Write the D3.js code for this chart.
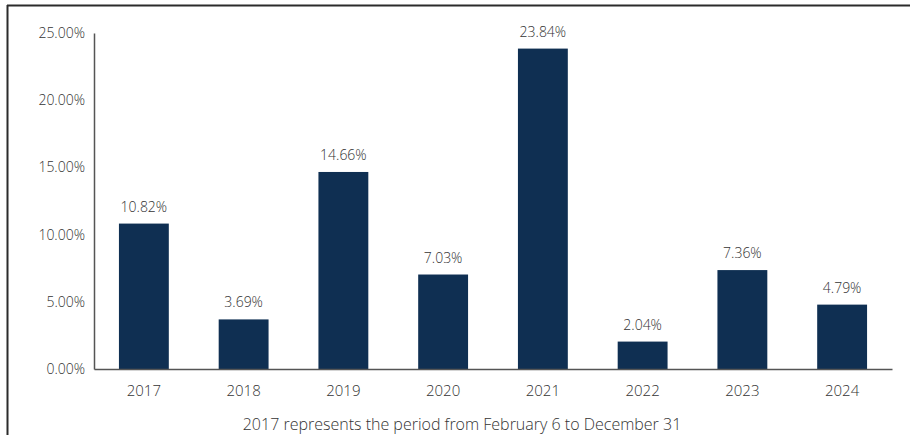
<!DOCTYPE html>
<html><head><meta charset="utf-8">
<script src="https://cdn.jsdelivr.net/npm/d3@7/dist/d3.min.js"></script>
<style>body{margin:0;background:#fff}svg{display:block}text{font-family:"Open Sans",sans-serif;font-weight:300}</style>
</head><body><svg id="c" width="910" height="435"></svg>
<script>
const years = ["2017","2018","2019","2020","2021","2022","2023","2024"];
const returns = [10.82,3.69,14.66,7.03,23.84,2.04,7.36,4.79];
const yTicks = [0,5,10,15,20,25];
const footnote = "2017 represents the period from February 6 to December 31";

const FONT = '"Open Sans",sans-serif';
const svg = d3.select("#c");
const x = d3.scaleBand().domain(years).range([94,892]).paddingInner(0.5).paddingOuter(0.25);
const y = d3.scaleLinear().domain([0,25]).range([369,33]);

// frame
svg.append("line").attr("x1",7).attr("x2",910).attr("y1",5.5).attr("y2",5.5).attr("stroke","#2b2b2b").attr("stroke-width",2);
svg.append("line").attr("x1",7.5).attr("x2",7.5).attr("y1",5).attr("y2",435).attr("stroke","#2b2b2b").attr("stroke-width",2);

svg.selectAll("rect.bar").data(years).join("rect").attr("class","bar")
  .attr("x",d=>x(d)).attr("width",x.bandwidth())
  .attr("y",(d,i)=>y(returns[i])).attr("height",(d,i)=>y(0)-y(returns[i]))
  .attr("fill","#0f2f52");

svg.selectAll("text.val").data(years).join("text").attr("class","val")
  .attr("x",d=>x(d)+x.bandwidth()/2).attr("y",(d,i)=>y(returns[i])-12)
  .attr("text-anchor","middle").attr("font-size",14).attr("fill","#333")
  .text((d,i)=>returns[i].toFixed(2)+"%");

const ya = svg.append("g").attr("transform","translate(94,0)")
  .call(d3.axisLeft(y).tickValues(yTicks).tickSize(0).tickPadding(9).tickFormat(d=>d.toFixed(2)+"%"));
ya.select(".domain").attr("stroke","#555").attr("stroke-width",1.5);
ya.selectAll("text").attr("font-size",14).attr("fill","#333").style("font-family",FONT).style("font-weight",300);

const xa = svg.append("g").attr("transform","translate(0,369)")
  .call(d3.axisBottom(x).tickSize(0).tickPadding(16));
xa.select(".domain").attr("stroke","#555").attr("stroke-width",1.5);
xa.selectAll("text").attr("font-size",15).attr("fill","#333").style("font-family",FONT).style("font-weight",300);

svg.append("text").attr("x",462).attr("y",430).attr("text-anchor","middle")
  .attr("font-size",16).attr("fill","#333").text(footnote);
</script></body></html>
